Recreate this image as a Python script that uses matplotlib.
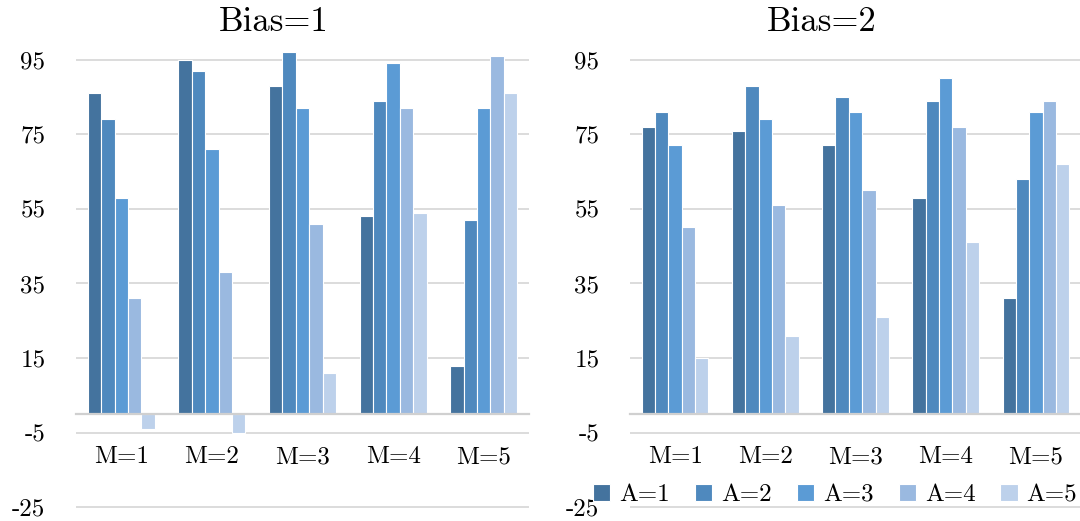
import numpy as np
import matplotlib.pyplot as plt

plt.rcParams['font.family'] = ['cmr10', 'DejaVu Serif']
plt.rcParams['axes.unicode_minus'] = False

# data
categories = ['M=1', 'M=2', 'M=3', 'M=4', 'M=5']
series_names = ['A=1', 'A=2', 'A=3', 'A=4', 'A=5']
bias1 = {
    'A=1': [86, 95, 88, 53, 13],
    'A=2': [79, 92, 97, 84, 52],
    'A=3': [58, 71, 82, 94, 82],
    'A=4': [31, 38, 51, 82, 96],
    'A=5': [-4, -5, 11, 54, 86],
}
bias2 = {
    'A=1': [77, 76, 72, 58, 31],
    'A=2': [81, 88, 85, 84, 63],
    'A=3': [72, 79, 81, 90, 81],
    'A=4': [50, 56, 60, 77, 84],
    'A=5': [15, 21, 26, 46, 67],
}
yticks = [-25, -5, 15, 35, 55, 75, 95]
colors = ['#44739e', '#4f89be', '#5b9bd5', '#9ab9e0', '#bdd1eb']

fig = plt.figure(figsize=(10.8, 5.21), dpi=100)

W, H = 1080, 521
def axes_rect(left_px, right_px):
    # y range -26..98, 3.73 px per unit, zero at ~414 px
    top = 414 - 98 * 3.73
    bottom = 414 + 26 * 3.73
    return [left_px / W, 1 - bottom / H, (right_px - left_px) / W, (bottom - top) / H]

panels = [(bias1, 'Bias=1', axes_rect(76, 529), 274),
          (bias2, 'Bias=2', axes_rect(630, 1081), 822)]

x = np.arange(len(categories))
bw = 0.148
handles = []
for data, title, rect, tx in panels:
    ax = fig.add_axes(rect)
    for i, name in enumerate(series_names):
        b = ax.bar(x + (i - 2) * bw, data[name], width=bw, color=colors[i],
                   edgecolor='white', linewidth=0.8, zorder=3, label=name)
        if title == 'Bias=1':
            handles.append(b)
    ax.set_xlim(-0.5, 4.5)
    ax.set_ylim(-26, 98)
    ax.set_yticks(yticks)
    ax.set_yticklabels([str(t) for t in yticks])
    ax.set_xticks(x)
    ax.set_xticklabels(categories)
    ax.yaxis.grid(True, color='#d9d9d9', linewidth=1.3, zorder=0)
    for s in ['top', 'right', 'left']:
        ax.spines[s].set_visible(False)
    ax.spines['bottom'].set_position(('data', 0))
    ax.spines['bottom'].set_color('#d0d0d0')
    ax.spines['bottom'].set_linewidth(1.6)
    ax.spines['bottom'].set_zorder(4)
    ax.tick_params(axis='y', length=0, pad=22, labelsize=18)
    ax.tick_params(axis='x', length=0, pad=23, labelsize=18)
    fig.text(tx / W, 1 - 22 / H, title, ha='center', va='center', fontsize=25)

fig.legend(handles=handles, labels=series_names, loc='center', ncol=5,
           bbox_to_anchor=(835 / W, 1 - 495 / H), frameon=False, fontsize=18,
           handlelength=0.7, handleheight=0.7, handletextpad=0.35,
           columnspacing=1.0, borderaxespad=0)

fig.savefig('out.png', dpi=100)
